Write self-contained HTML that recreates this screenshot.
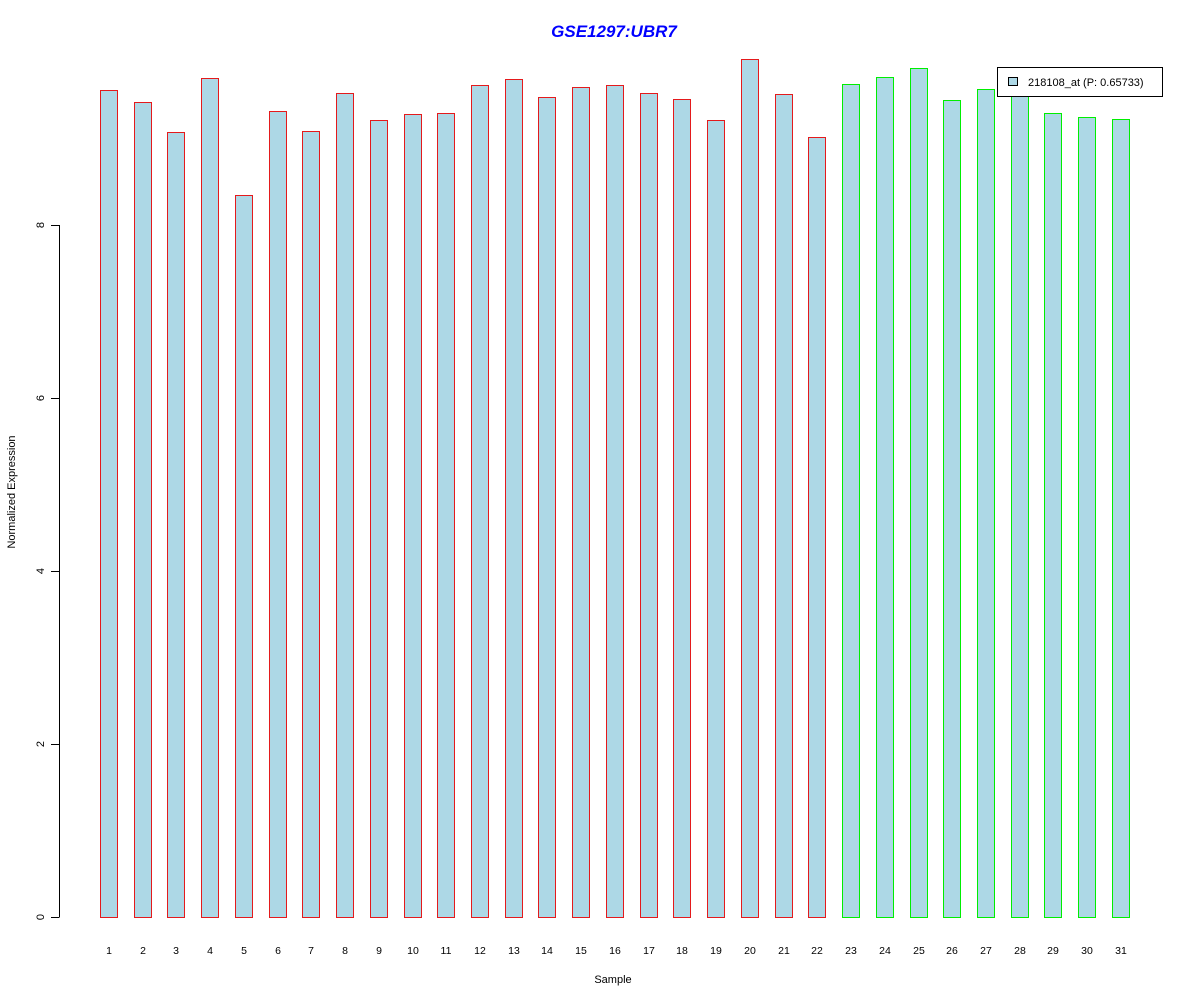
<!DOCTYPE html>
<html><head><meta charset="utf-8"><style>body{margin:0;background:#fff}svg{display:block}</style></head>
<body>
<svg width="1200" height="1000" xmlns="http://www.w3.org/2000/svg" font-family="Liberation Sans, sans-serif">
<rect width="1200" height="1000" fill="#fff"/>
<text x="614" y="37" text-anchor="middle" font-size="17" font-weight="bold" font-style="italic" fill="#0000ff">GSE1297:UBR7</text>
<g stroke="#000" stroke-width="1" shape-rendering="crispEdges">
<line x1="59.5" y1="225" x2="59.5" y2="917"/>
<line x1="51" y1="917.5" x2="59.5" y2="917.5"/>
<line x1="51" y1="744.5" x2="59.5" y2="744.5"/>
<line x1="51" y1="571.5" x2="59.5" y2="571.5"/>
<line x1="51" y1="398.5" x2="59.5" y2="398.5"/>
<line x1="51" y1="225.5" x2="59.5" y2="225.5"/>
</g>
<g font-size="11" text-anchor="middle" fill="#000">
<text transform="translate(44,917) rotate(-90)">0</text>
<text transform="translate(44,744) rotate(-90)">2</text>
<text transform="translate(44,571) rotate(-90)">4</text>
<text transform="translate(44,398) rotate(-90)">6</text>
<text transform="translate(44,225) rotate(-90)">8</text>
<text transform="translate(15,492) rotate(-90)">Normalized Expression</text>
<text x="613" y="983">Sample</text>
</g>
<g fill="#add8e6" stroke-width="1" shape-rendering="crispEdges">
<g stroke="#e41a1c">
<rect x="100.5" y="90.5" width="17" height="827"/>
<rect x="134.5" y="102.5" width="17" height="815"/>
<rect x="167.5" y="132.5" width="17" height="785"/>
<rect x="201.5" y="78.5" width="17" height="839"/>
<rect x="235.5" y="195.5" width="17" height="722"/>
<rect x="269.5" y="111.5" width="17" height="806"/>
<rect x="302.5" y="131.5" width="17" height="786"/>
<rect x="336.5" y="93.5" width="17" height="824"/>
<rect x="370.5" y="120.5" width="17" height="797"/>
<rect x="404.5" y="114.5" width="17" height="803"/>
<rect x="437.5" y="113.5" width="17" height="804"/>
<rect x="471.5" y="85.5" width="17" height="832"/>
<rect x="505.5" y="79.5" width="17" height="838"/>
<rect x="538.5" y="97.5" width="17" height="820"/>
<rect x="572.5" y="87.5" width="17" height="830"/>
<rect x="606.5" y="85.5" width="17" height="832"/>
<rect x="640.5" y="93.5" width="17" height="824"/>
<rect x="673.5" y="99.5" width="17" height="818"/>
<rect x="707.5" y="120.5" width="17" height="797"/>
<rect x="741.5" y="59.5" width="17" height="858"/>
<rect x="775.5" y="94.5" width="17" height="823"/>
<rect x="808.5" y="137.5" width="17" height="780"/>
</g>
<g stroke="#00ee00">
<rect x="842.5" y="84.5" width="17" height="833"/>
<rect x="876.5" y="77.5" width="17" height="840"/>
<rect x="910.5" y="68.5" width="17" height="849"/>
<rect x="943.5" y="100.5" width="17" height="817"/>
<rect x="977.5" y="89.5" width="17" height="828"/>
<rect x="1011.5" y="93.5" width="17" height="824"/>
<rect x="1044.5" y="113.5" width="17" height="804"/>
<rect x="1078.5" y="117.5" width="17" height="800"/>
<rect x="1112.5" y="119.5" width="17" height="798"/>
</g>
</g>
<g font-size="10.5" text-anchor="middle">
<text x="109" y="954">1</text><text x="143" y="954">2</text><text x="176" y="954">3</text><text x="210" y="954">4</text><text x="244" y="954">5</text><text x="278" y="954">6</text><text x="311" y="954">7</text><text x="345" y="954">8</text><text x="379" y="954">9</text><text x="413" y="954">10</text><text x="446" y="954">11</text><text x="480" y="954">12</text><text x="514" y="954">13</text><text x="547" y="954">14</text><text x="581" y="954">15</text><text x="615" y="954">16</text><text x="649" y="954">17</text><text x="682" y="954">18</text><text x="716" y="954">19</text><text x="750" y="954">20</text><text x="784" y="954">21</text><text x="817" y="954">22</text><text x="851" y="954">23</text><text x="885" y="954">24</text><text x="919" y="954">25</text><text x="952" y="954">26</text><text x="986" y="954">27</text><text x="1020" y="954">28</text><text x="1053" y="954">29</text><text x="1087" y="954">30</text><text x="1121" y="954">31</text>
</g>
<rect x="997.5" y="67.5" width="165" height="29" fill="#fff" stroke="#000" shape-rendering="crispEdges"/>
<rect x="1008.5" y="77.5" width="9" height="8" fill="#add8e6" stroke="#000" shape-rendering="crispEdges"/>
<text x="1028" y="86" font-size="11">218108_at (P: 0.65733)</text>
</svg>
</body></html>
